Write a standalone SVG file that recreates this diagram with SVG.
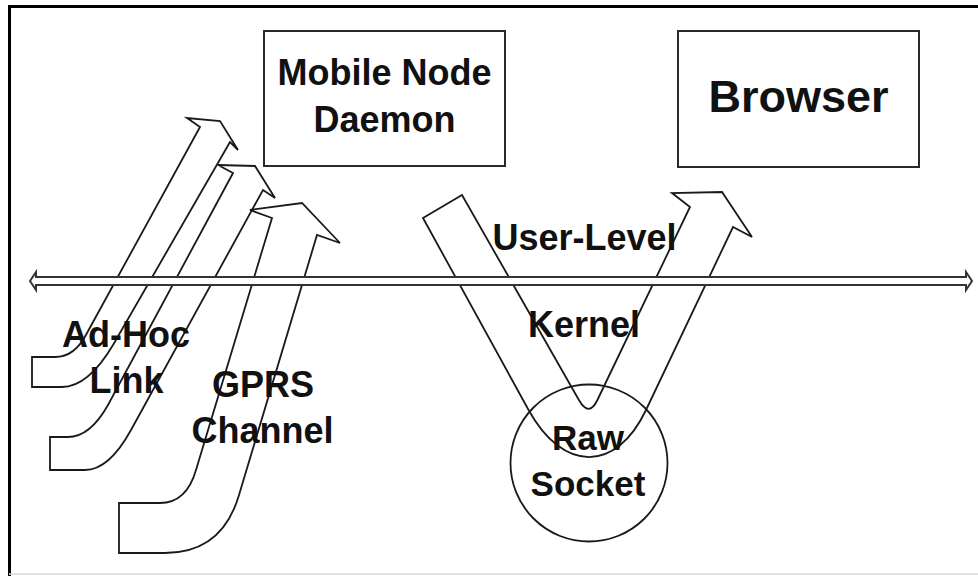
<svg xmlns="http://www.w3.org/2000/svg" width="978" height="576" viewBox="0 0 978 576">
  <style>
    .frame { stroke: #000; stroke-width: 3; fill: none; }
    .box { fill: #fff; stroke: #2a2a2a; stroke-width: 2; }
    .flow { fill: none; stroke: #1a1a1a; stroke-width: 1.8; stroke-linejoin: miter; }
    .bar { fill: #fff; stroke: #333; stroke-width: 2; }
    .lbl { font-family: "Liberation Sans", Arial, sans-serif; font-weight: bold; fill: #111; text-anchor: middle; }
  </style>

  <rect width="978" height="576" fill="#fff"/>

  <!-- outer frame -->
  <g id="frame">
    <line class="frame" x1="9" y1="6.5" x2="978" y2="6.5"/>
    <line class="frame" x1="9.5" y1="5" x2="9.5" y2="576"/>
    <line x1="9" y1="574" x2="978" y2="574" stroke="#d8d8d8" stroke-width="1.5"/>
  </g>

  <!-- flows: link arrows and the raw socket path -->
  <g id="connectors">
    <!-- ad-hoc link, upper arrow -->
    <path class="flow" d="M200,127 L187,118 L220,121 L238,150 L230,142 L113,345 Q88,387 62,387 L32,387 L32,357 L55,357 Q75,357 87,333 Z"/>
    <!-- ad-hoc link, lower arrow -->
    <path class="flow" d="M233,173 L218,165 L255,166 L275,198 L263,190 L131,430 Q109,470 85,470 L50,470 L50,437 L68,437 Q90,437 108,405 Z"/>
    <!-- GPRS channel arrow -->
    <path class="flow" d="M272,218 L250,210 L302,203 L340,243 L317,235 L239,495 Q222,553 165,553 L119,553 L119,503 L160,503 Q186.5,503 196,470 Z"/>
    <!-- path down through the raw socket and back up -->
    <path class="flow" d="M423,218 L462,195 L578.9,400 Q589,417.6 597.4,400 L690,207 L672,193 L722,192 L752,237 L733,227 L646,410 C616.2,472.7 563.1,472.7 528.6,410 Z"/>
    <!-- user / kernel boundary -->
    <path class="bar" d="M30,281 L36,272 L36,277 L966,277 L966,272 L972,281 L966,290 L966,285 L36,285 L36,290 Z"/>
  </g>

  <g id="mobile-node-daemon">
    <rect class="box" x="264" y="31" width="241" height="135"/>
    <text class="lbl" x="384.5" y="85" font-size="36">Mobile Node</text>
    <text class="lbl" x="384.5" y="132" font-size="36">Daemon</text>
  </g>

  <g id="browser">
    <rect class="box" x="678" y="31" width="241" height="136"/>
    <text class="lbl" x="798.5" y="112" font-size="45">Browser</text>
  </g>

  <g id="raw-socket">
    <circle cx="589" cy="463" r="78.5" fill="none" stroke="#1a1a1a" stroke-width="1.8"/>
    <text class="lbl" x="588" y="450" font-size="35">Raw</text>
    <text class="lbl" x="588" y="496" font-size="35">Socket</text>
  </g>

  <g id="labels">
    <text class="lbl" x="584.5" y="250" font-size="36">User-Level</text>
    <text class="lbl" x="584" y="337" font-size="36">Kernel</text>
    <text class="lbl" x="126" y="347" font-size="36">Ad-Hoc</text>
    <text class="lbl" x="126.5" y="393" font-size="36">Link</text>
    <text class="lbl" x="263" y="397" font-size="36">GPRS</text>
    <text class="lbl" x="262.5" y="443" font-size="36">Channel</text>
  </g>
</svg>
